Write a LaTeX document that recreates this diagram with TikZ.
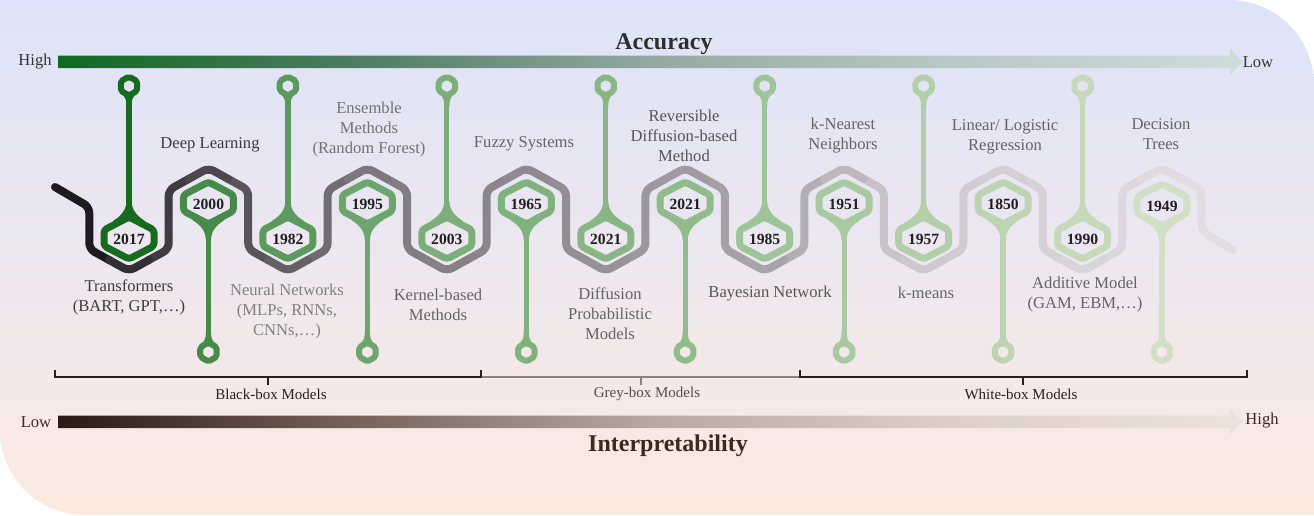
\documentclass[tikz,border=0pt]{standalone}
\usepackage{fontspec}
\setmainfont{Liberation Serif}
\usetikzlibrary{calc}
\definecolor{bgT}{HTML}{DDE3F8}
\definecolor{bgM}{HTML}{EDE7EF}
\definecolor{bgB}{HTML}{FDEADF}
\definecolor{accA}{HTML}{0E6A20}
\definecolor{accB}{HTML}{4E7C62}
\definecolor{accC}{HTML}{93A9A0}
\definecolor{accD}{HTML}{B8C8C4}
\definecolor{accE}{HTML}{CFDCDA}
\definecolor{intA}{HTML}{2A1A12}
\definecolor{intB}{HTML}{75635A}
\definecolor{intC}{HTML}{B8A9A0}
\definecolor{intD}{HTML}{DCCFC6}
\definecolor{intE}{HTML}{EDE2DA}
\pgfdeclarehorizontalshading{accshade}{100bp}{color(0bp)=(accA); color(25bp)=(accA); color(37.5bp)=(accB); color(50bp)=(accC); color(62.5bp)=(accD); color(75bp)=(accE); color(100bp)=(accE)}
\pgfdeclarehorizontalshading{intshade}{100bp}{color(0bp)=(intA); color(25bp)=(intA); color(37.5bp)=(intB); color(50bp)=(intC); color(62.5bp)=(intD); color(75bp)=(intE); color(100bp)=(intE)}
\definecolor{g1}{HTML}{166B1F}
\definecolor{g2}{HTML}{468B49}
\definecolor{g3}{HTML}{5A9A5C}
\definecolor{g4}{HTML}{6DA56E}
\definecolor{g5}{HTML}{7BAE78}
\definecolor{g6}{HTML}{80B27E}
\definecolor{g7}{HTML}{88B785}
\definecolor{g8}{HTML}{90BB8B}
\definecolor{g9}{HTML}{9EC49A}
\definecolor{g10}{HTML}{A8C9A2}
\definecolor{g11}{HTML}{B2CFAA}
\definecolor{g12}{HTML}{BCD4B2}
\definecolor{g13}{HTML}{C6D9BB}
\definecolor{g14}{HTML}{D0DFC5}
\definecolor{txtD}{HTML}{3C3C3C}
\definecolor{txtM}{HTML}{646468}
\definecolor{txtL}{HTML}{808080}
\definecolor{bbC}{HTML}{2A1E1E}
\definecolor{gbC}{HTML}{8A8282}
\definecolor{brnT}{HTML}{3A2A22}
\newcommand\setsnk[1]{%
  \pgfmathsetmacro\sx{#1}%
  \ifdim\sx pt<370pt
    \pgfmathsetmacro\sv{30+(\sx-57)/313*95}%
  \else\ifdim\sx pt<770pt
    \pgfmathsetmacro\sv{125+(\sx-370)/400*44}%
  \else\ifdim\sx pt<900pt
    \pgfmathsetmacro\sv{169+(\sx-770)/130*35}%
  \else
    \pgfmathsetmacro\sv{204+(\sx-900)/332*23}%
  \fi\fi\fi
  \pgfmathtruncatemacro\sr{\sv}\pgfmathtruncatemacro\sg{\sv-4}\pgfmathtruncatemacro\sb{\sv+2}%
  \definecolor{snk}{RGB}{\sr,\sg,\sb}%
}
\begin{document}
\begin{tikzpicture}[x=0.5pt,y=-0.5pt,
  every node/.style={inner sep=0pt,outer sep=0pt},
  lbl/.style={align=center,font=\fontsize{8.3}{10}\selectfont},
  yr/.style={font=\fontsize{7.8}{9}\selectfont\bfseries,text=black!88},
  snkline/.style={line width=4pt,rounded corners=3pt,line cap=round},
  hexline/.style={line width=3.5pt,rounded corners=1.5pt,line join=round},
  ringline/.style={line width=3pt,rounded corners=1pt,line join=round},
  pinline/.style={line width=2.6pt},
  brk/.style={line width=1.25pt},
  brklbl/.style={font=\fontsize{7.5}{9}\selectfont},
  axlbl/.style={font=\fontsize{8.3}{10}\selectfont},
  axtitle/.style={font=\fontsize{12}{14}\selectfont\bfseries}]
\useasboundingbox (0,0) rectangle (1314,515);
% background
\shade[top color=bgT,bottom color=bgB,middle color=bgM]
  (0,0) -- (1229,0) arc[start angle=-90,end angle=0,radius=85] -- (1314,515)
  -- (85,515) arc[start angle=90,end angle=180,radius=85] -- cycle;
% accuracy arrow
\shade[shading=accshade]
  (58,55.5) -- (1230,55.5) -- (1230,49) -- (1243,61.75) -- (1230,74.5) -- (1230,68) -- (58,68) -- cycle;
\node[axtitle,text=black!82] (acc) at (664,44) {Accuracy};
\node[axlbl,text=black!80] (accH) at (35,62) {High};
\node[axlbl,text=black!80] (accL) at (1258,62) {Low};
% interpretability arrow
\shade[shading=intshade]
  (58,415.5) -- (1230,415.5) -- (1230,409) -- (1243,421.75) -- (1230,434.5) -- (1230,428) -- (58,428) -- cycle;
\node[axtitle,text=brnT] (interp) at (668,446) {Interpretability};
\node[axlbl,text=brnT] (intLo) at (36,422) {Low};
\node[axlbl,text=brnT] (intHi) at (1262,421) {High};
% snake
\setsnk{57}
\draw[snkline,draw=snk] (55,187) -- (89.27,207) -- (89.27,249) -- (109.13,260);
\foreach \j in {1,...,13}{
  \pgfmathsetmacro\vx{89.27+79.46*\j}
  \pgfmathtruncatemacro\od{mod(\j,2)}
  \ifnum\od=1 \def\ea{249}\def\ma{260}\def\eb{190}\def\mb{179}\else\def\ea{190}\def\ma{179}\def\eb{249}\def\mb{260}\fi
  \setsnk{\vx}
  \draw[snkline,draw=snk] (\vx-19.86,\ma) -- (\vx,\ea) -- (\vx,\eb) -- (\vx+19.86,\mb);
}
\foreach \k in {1,...,14}{
  \pgfmathsetmacro\hx{129+79.46*(\k-1)}
  \pgfmathtruncatemacro\od{mod(\k,2)}
  \ifnum\od=1 \def\ya{271}\def\ym{260}\else\def\ya{168}\def\ym{179}\fi
  \setsnk{\hx}
  \draw[snkline,draw=snk] (\hx-19.86,\ym) -- (\hx,\ya) -- (\hx+19.86,\ym);
}
\setsnk{1215}
\draw[snkline,draw=snk] (1181.84,179) -- (1201.7,190) -- (1201.7,231) -- (1233,250);
% year hexagons with pins
\foreach \yr/\col [count=\k] in {2017/g1,2000/g2,1982/g3,1995/g4,2003/g5,1965/g6,2021/g7,2021/g8,1985/g9,1951/g10,1957/g11,1850/g12,1990/g13,1949/g14}{
  \pgfmathsetmacro\hx{129+79.46*(\k-1)}
  \pgfmathtruncatemacro\od{mod(\k,2)}
  \ifnum\od=1 \def\hy{238}\def\hdir{-1}\def\ry{86}\else\def\hy{203}\def\hdir{1}\def\ry{352}\fi
  \ifnum\k=14 \def\hy{205}\fi
  \pgfmathsetmacro\vy{\hy+21*\hdir}
  \pgfmathsetmacro\nA{\vy+16*\hdir}
  \pgfmathsetmacro\nB{\vy+7*\hdir}
  \pgfmathsetmacro\nC{\vy+1*\hdir}
  \pgfmathsetmacro\nD{\vy-4*\hdir}
  \pgfmathsetmacro\tA{\ry-9.5*\hdir}
  \pgfmathsetmacro\tB{\ry-14*\hdir}
  \pgfmathsetmacro\tC{\ry-21*\hdir}
  \draw[pinline,draw=\col] (\hx,\vy) -- (\hx,\tA);
  \fill[\col] (\hx-2.6,\nA) .. controls (\hx-2.6,\nB) and (\hx-8,\nC) .. (\hx-16,\nD)
     -- (\hx+16,\nD) .. controls (\hx+8,\nC) and (\hx+2.6,\nB) .. (\hx+2.6,\nA) -- cycle;
  \fill[\col] (\hx-5.5,\tA) .. controls (\hx-2.8,\tB) .. (\hx-2.6,\tC) -- (\hx+2.6,\tC)
     .. controls (\hx+2.8,\tB) .. (\hx+5.5,\tA) -- cycle;
  \draw[ringline,draw=\col] (\hx,\ry-9.5) -- (\hx+8.23,\ry-4.75) -- (\hx+8.23,\ry+4.75)
     -- (\hx,\ry+9.5) -- (\hx-8.23,\ry+4.75) -- (\hx-8.23,\ry-4.75) -- cycle;
  \draw[hexline,draw=\col] (\hx,\hy-21) -- (\hx+25,\hy-8) -- (\hx+25,\hy+8)
     -- (\hx,\hy+21) -- (\hx-25,\hy+8) -- (\hx-25,\hy-8) -- cycle;
  \node[yr] (y\k) at (\hx,\hy+1) {\yr};
}
% labels
\node[lbl,text=txtD] (l1) at (129,297) {Transformers\\(BART, GPT,\ldots)};
\node[lbl,text=txtD] (l2) at (210,145) {Deep Learning};
\node[lbl,text=txtL] (l3) at (287,312) {Neural Networks\\(MLPs, RNNs,\\CNNs,\ldots)};
\node[lbl,text=txtL!90!black] (l4) at (369,130) {Ensemble\\Methods\\(Random Forest)};
\node[lbl,text=txtM] (l5) at (438,305) {Kernel-based\\Methods};
\node[lbl,text=txtM] (l6) at (524,144) {Fuzzy Systems};
\node[lbl,text=txtM] (l7) at (610,314) {Diffusion\\Probabilistic\\Models};
\node[lbl,text=txtM!85!black] (l8) at (684,136) {Reversible\\Diffusion-based\\Method};
\node[lbl,text=txtM!85!black] (l9) at (770,294) {Bayesian Network};
\node[lbl,text=txtM] (l10) at (843,136) {k-Nearest\\Neighbors};
\node[lbl,text=txtM] (l11) at (926,293) {k-means};
\node[lbl,text=txtM] (l12) at (1005,137) {Linear/ Logistic\\Regression};
\node[lbl,text=txtM] (l13) at (1085,295) {Additive Model\\(GAM, EBM,\ldots)};
\node[lbl,text=txtM] (l14) at (1161,134) {Decision\\Trees};
% brackets
\draw[brk,draw=bbC] (55,370) -- (55,377) -- (481,377) -- (481,370);
\draw[brk,draw=bbC] (268,377) -- (268,385);
\draw[brk,draw=gbC] (481.6,377) -- (800,377);
\draw[brk,draw=gbC] (641,377) -- (641,385);
\draw[brk,draw=bbC] (800,370) -- (800,377) -- (1247,377) -- (1247,370);
\draw[brk,draw=bbC] (1023,377) -- (1023,385);
\node[brklbl,text=bbC] (bb) at (271,394) {Black-box Models};
\node[brklbl,text=bbC!80!white] (gb) at (647,394) {Grey-box Models};
\node[brklbl,text=bbC] (wb) at (1021,394) {White-box Models};
\end{tikzpicture}
\end{document}
